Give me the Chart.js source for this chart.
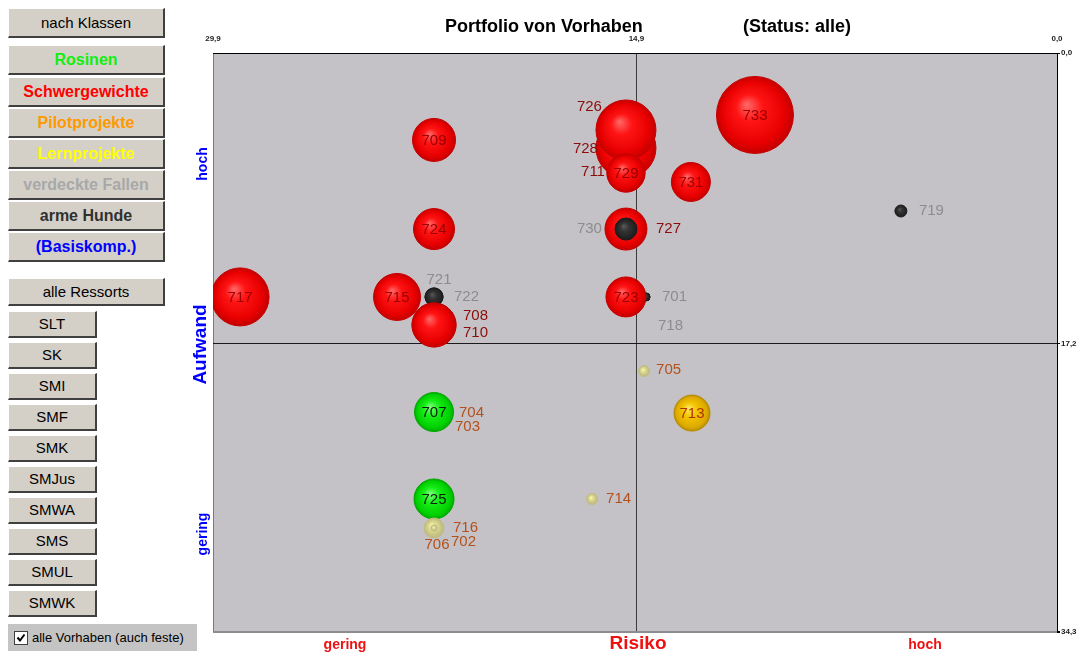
<!DOCTYPE html>
<html lang="de">
<head>
<meta charset="utf-8">
<title>Portfolio von Vorhaben</title>
<script src="https://cdn.jsdelivr.net/npm/chart.js@4.4.1/dist/chart.umd.min.js"></script>
<style>
	html, body { margin: 0; padding: 0; background: #fff; }
	#page { position: relative; width: 1079px; height: 654px; overflow: hidden; font-family: "Liberation Sans", Arial, sans-serif; }
	.btn {
		position: absolute; left: 8px; width: 157px; height: 30px; box-sizing: border-box;
		background: #d4d0c8; border-top: 1px solid #fff; border-left: 1px solid #fff;
		border-right: 2px solid #404040; border-bottom: 2px solid #404040;
		text-align: center; font-size: 15px; line-height: 27px; color: #000; white-space: nowrap;
	}
	.btn.k { font-weight: bold; font-size: 16px; }
	.btn.r { width: 89px; height: 27px; line-height: 24px; }
	#chk { position: absolute; left: 8px; top: 624px; width: 189px; height: 27px; background: #c4c4c4; font-size: 13px; line-height: 27px; }
	#chk .box { position: absolute; left: 6px; top: 7px; width: 12px; height: 12px; background: #fff; border: 1px solid #404040; }
	#chk .box svg { display: block; }
	#chk span { position: absolute; left: 24px; top: 0; }
	#chartBox { position: absolute; left: 180px; top: 0; width: 899px; height: 654px; }
</style>
</head>
<body>
<div id="page">
	<div class="btn" style="top:8px">nach Klassen</div>
	<div class="btn k" style="top:45px;color:#11ee11">Rosinen</div>
	<div class="btn k" style="top:77px;color:#ff0000">Schwergewichte</div>
	<div class="btn k" style="top:108px;color:#ff9900">Pilotprojekte</div>
	<div class="btn k" style="top:139px;color:#ffff00">Lernprojekte</div>
	<div class="btn k" style="top:170px;color:#a8a8a8">verdeckte Fallen</div>
	<div class="btn k" style="top:201px;color:#303030">arme Hunde</div>
	<div class="btn k" style="top:232px;color:#0000ff">(Basiskomp.)</div>

	<div class="btn" style="top:278px;height:28px;line-height:25px">alle Ressorts</div>
	<div class="btn r" style="top:311px">SLT</div>
	<div class="btn r" style="top:342px">SK</div>
	<div class="btn r" style="top:373px">SMI</div>
	<div class="btn r" style="top:404px">SMF</div>
	<div class="btn r" style="top:435px">SMK</div>
	<div class="btn r" style="top:466px">SMJus</div>
	<div class="btn r" style="top:497px">SMWA</div>
	<div class="btn r" style="top:528px">SMS</div>
	<div class="btn r" style="top:559px">SMUL</div>
	<div class="btn r" style="top:590px">SMWK</div>

	<div id="chk">
		<div class="box"><svg width="12" height="12" viewBox="0 0 12 12"><path d="M2.5 5.5 L5 8.5 L9.5 2.5" stroke="#000" stroke-width="2" fill="none"/></svg></div>
		<span>alle Vorhaben (auch feste)</span>
	</div>

	<div id="chartBox"><canvas id="portfolio"></canvas></div>
</div>

<script>
/* global Chart */

// ----------------------------------------------------------------
// Daten: Vorhaben (Reihenfolge = Zeichenreihenfolge)
// ----------------------------------------------------------------
var PROJEKTE = [ '704', '703', '717', '715', '709', '724', '721', '722', '708', '710',
                 '728', '726', '711', '729', '731', '733', '727', '730', '701', '718',
                 '723', '719', '707', '725', '713', '705', '714', '716', '706', '702' ];

var RISIKO   = [ 22.07, 22.07, 28.94, 23.38, 22.07, 22.07, 22.07, 22.07, 22.07, 22.07,
                 15.27, 15.27, 15.27, 15.27, 12.97, 10.70, 15.27, 15.27, 14.56, 14.56,
                 15.27,  5.53, 22.07, 22.07, 12.93, 14.63, 16.47, 22.07, 22.07, 22.07 ];

var AUFWAND  = [ 21.27, 21.27, 14.45, 14.45,  5.15, 10.43, 14.45, 14.45, 16.11, 16.11,
                  5.63,  4.56,  7.11,  7.11,  7.64,  3.67, 10.43, 10.43, 14.45, 14.45,
                 14.45,  9.36, 21.27, 26.42, 21.33, 18.84, 26.42, 28.14, 28.14, 28.14 ];

var UMFANG   = [ 5, 5, 29, 23.5, 21.5, 20.5, 9, 9, 22, 22,
                 30, 30, 19, 19, 19.5, 38.5, 21, 11, 4, 4,
                 20, 6, 19.5, 20, 18, 5.5, 5.5, 10, 3, 3 ];

var KLASSE   = [ 'lern', 'lern', 'schwer', 'schwer', 'schwer', 'schwer', 'hund', 'hund', 'schwer', 'schwer',
                 'schwer', 'schwer', 'schwer', 'schwer', 'schwer', 'schwer', 'schwer', 'hund', 'hund', 'hund',
                 'schwer', 'hund', 'rosine', 'rosine', 'pilot', 'lern', 'lern', 'lern', 'lern', 'lern' ];

var X_TICKS = [ 0, 14.9, 29.9 ];
var Y_TICKS = [ 0, 17.2, 34.3 ];

var TITEL   = 'Portfolio von Vorhaben';
var STATUS  = '(Status: alle)';
var X_TITEL = 'Risiko';
var Y_TITEL = 'Aufwand';
var STUFEN  = [ 'gering', 'hoch' ];

( function () {
	'use strict';

	var RADIUS_FAKTOR = 1;
	var PLOT_BG = '#c4c2c6';
	var LABEL_FONT = '15px "Liberation Sans", Arial, sans-serif';

	var FARBEN = {
		schwer : { stops: [ [ 0, '#ff6a6a' ], [ 0.35, '#ff1414' ], [ 0.8, '#e80000' ], [ 1, '#c40000' ] ], rand: '#c80000', innen: '#990000', aussen: '#8c0c0c' },
		rosine : { stops: [ [ 0, '#80ff80' ], [ 0.4, '#18ee18' ], [ 0.85, '#00d000' ], [ 1, '#00aa00' ] ], rand: '#00aa00', innen: '#0a200a', aussen: '#0a200a' },
		pilot  : { stops: [ [ 0, '#ffe866' ], [ 0.4, '#f2c400' ], [ 0.85, '#dcaa00' ], [ 1, '#b88c00' ] ], rand: '#b88c00', innen: '#b03000', aussen: '#b4501c' },
		lern   : { stops: [ [ 0, '#ffffb8' ], [ 0.25, '#e8e49a' ], [ 0.6, '#d2ce8c' ], [ 1, '#bcb67e' ] ], rand: '#c2be84', innen: '#b4501c', aussen: '#b4501c' },
		hund   : { stops: [ [ 0, '#5a5a5a' ], [ 0.4, '#333333' ], [ 1, '#1c1c1c' ] ], rand: '#1a1a1a', innen: '#888888', aussen: '#8c8c8c' },
	};

	// Label-Versatz in Pixeln relativ zur Kugelmitte: [ dx, dy, Ausrichtung ]
	// Fehlt ein Eintrag, steht die Nummer mittig in der Kugel.
	var LABEL_VERSATZ = {
		'704': [ 25, 1, 'left' ],   '703': [ 21, 15, 'left' ],
		'721': [ 5, -17, 'center' ], '722': [ 20, 0, 'left' ],
		'708': [ 29, -9, 'left' ],  '710': [ 29, 8, 'left' ],
		'728': [ -28, 1, 'right' ], '726': [ -24, -23, 'right' ],
		'711': [ -21, -1, 'right' ], '727': [ 30, 0, 'left' ],
		'730': [ -24, 0, 'right' ], '701': [ 16, 0, 'left' ],
		'718': [ 12, 29, 'left' ],  '719': [ 18, 0, 'left' ],
		'705': [ 12, -1, 'left' ],  '714': [ 14, 0, 'left' ],
		'716': [ 19, 0, 'left' ],   '706': [ 3, 17, 'center' ],
		'702': [ 17, 14, 'left' ],
	};

	Chart.defaults.font.family = '"Liberation Sans", Arial, sans-serif';

	function komma( v ) {
		return Number( v ).toFixed( 1 ).replace( '.', ',' );
	}

	function kugel( ctx ) {
		var f = FARBEN[ KLASSE[ ctx.dataIndex ] ] || FARBEN.schwer;
		if ( ctx.type !== 'data' ) { return f.rand; }
		var chart = ctx.chart;
		var i  = ctx.dataIndex;
		var px = chart.scales.x.getPixelForValue( RISIKO[ i ] );
		var py = chart.scales.y.getPixelForValue( AUFWAND[ i ] );
		var r  = UMFANG[ i ] * RADIUS_FAKTOR;
		if ( ! isFinite( px ) || ! isFinite( py ) ) { return f.stops[ 1 ][ 1 ]; }
		var g = chart.ctx.createRadialGradient( px - r * 0.22, py - r * 0.28, 0, px, py, r );
		f.stops.forEach( function ( s ) { g.addColorStop( s[ 0 ], s[ 1 ] ); } );
		return g;
	}

	function randFarbe( ctx ) {
		var f = FARBEN[ KLASSE[ ctx.dataIndex ] ] || FARBEN.schwer;
		return f.rand;
	}

	// ----------------------------------------------------------------
	// Plugins
	// ----------------------------------------------------------------

	var hintergrund = {
		id: 'hintergrund',
		beforeDraw: function ( chart ) {
			var a = chart.chartArea, c = chart.ctx;
			c.save();
			c.fillStyle = PLOT_BG;
			c.fillRect( a.left, a.top, a.right - a.left, a.bottom - a.top );
			c.restore();
		}
	};

	var nummern = {
		id: 'nummern',
		afterDatasetsDraw: function ( chart ) {
			var meta = chart.getDatasetMeta( 0 );
			var c = chart.ctx;
			c.save();
			c.font = LABEL_FONT;
			c.textBaseline = 'middle';
			meta.data.forEach( function ( el, i ) {
				var id = PROJEKTE[ i ];
				var f  = FARBEN[ KLASSE[ i ] ];
				var v  = LABEL_VERSATZ[ id ];
				if ( v ) {
					c.fillStyle = f.aussen;
					c.textAlign = v[ 2 ];
					c.fillText( id, el.x + v[ 0 ], el.y + v[ 1 ] );
				} else {
					c.fillStyle = f.innen;
					c.textAlign = 'center';
					c.fillText( id, el.x, el.y + 1 );
				}
			} );
			c.restore();
		}
	};

	var achsenText = {
		id: 'achsenText',
		afterDraw: function ( chart ) {
			var a = chart.chartArea, c = chart.ctx;
			var mx = ( a.left + a.right ) / 2;
			var my = ( a.top + a.bottom ) / 2;
			c.save();
			c.textBaseline = 'middle';

			c.fillStyle = '#000';
			c.font = 'bold 18px "Liberation Sans", Arial, sans-serif';
			c.textAlign = 'left';
			c.fillText( TITEL, a.left + 232, 27 );
			c.fillText( STATUS, a.left + 530, 27 );

			c.fillStyle = '#ee1111';
			c.textAlign = 'center';
			c.font = 'bold 19px "Liberation Sans", Arial, sans-serif';
			c.fillText( X_TITEL, mx + 3, a.bottom + 12 );
			c.font = 'bold 14px "Liberation Sans", Arial, sans-serif';
			c.fillText( STUFEN[ 0 ], a.left + 132, a.bottom + 13 );
			c.fillText( STUFEN[ 1 ], a.right - 132, a.bottom + 13 );

			c.fillStyle = '#0000ff';
			c.save();
			c.translate( a.left - 12, my + 2 );
			c.rotate( -Math.PI / 2 );
			c.font = 'bold 19px "Liberation Sans", Arial, sans-serif';
			c.fillText( Y_TITEL, 0, 0 );
			c.restore();

			c.font = 'bold 14px "Liberation Sans", Arial, sans-serif';
			c.save();
			c.translate( a.left - 10, a.top + 111 );
			c.rotate( -Math.PI / 2 );
			c.fillText( STUFEN[ 1 ], 0, 0 );
			c.restore();
			c.save();
			c.translate( a.left - 10, a.bottom - 98 );
			c.rotate( -Math.PI / 2 );
			c.fillText( STUFEN[ 0 ], 0, 0 );
			c.restore();

			c.restore();
		}
	};

	// ----------------------------------------------------------------
	// Chart
	// ----------------------------------------------------------------

	var punkte = PROJEKTE.map( function ( id, i ) {
		return { x: RISIKO[ i ], y: AUFWAND[ i ], r: UMFANG[ i ] * RADIUS_FAKTOR };
	} );

	var TICK_FONT = { family: '"Liberation Sans", Arial, sans-serif', size: 8, weight: 'bold' };

	new Chart( document.getElementById( 'portfolio' ), {
		type: 'bubble',
		data: {
			datasets: [ {
				label           : 'Vorhaben',
				data            : punkte,
				backgroundColor : kugel,
				borderColor     : randFarbe,
				borderWidth     : 1,
				hoverRadius     : 0,
				clip            : 0,
			} ],
		},
		options: {
			responsive          : true,
			maintainAspectRatio : false,
			animation           : false,
			events              : [],
			layout              : { autoPadding: false, padding: { left: 33, top: 33, right: 0, bottom: 22 } },
			plugins: {
				legend  : { display: false },
				tooltip : { enabled: false },
			},
			scales: {
				x: {
					type     : 'linear',
					position : 'top',
					reverse  : true,
					min      : 0,
					max      : 29.9,
					afterBuildTicks: function ( s ) { s.ticks = X_TICKS.map( function ( v ) { return { value: v }; } ); },
					afterFit : function ( s ) { s.height = 20; },
					ticks    : { callback: komma, font: TICK_FONT, color: '#222', padding: 9, maxRotation: 0 },
					grid     : {
						drawTicks : false,
						color     : function ( c ) { return [ '#000000', '#3a3a3a', '#7a7a7a' ][ c.index ]; },
						lineWidth : 1,
					},
					border   : { display: true, color: '#000', width: 1 },
				},
				y: {
					type     : 'linear',
					position : 'right',
					reverse  : true,
					min      : 0,
					max      : 34.3,
					afterBuildTicks: function ( s ) { s.ticks = Y_TICKS.map( function ( v ) { return { value: v }; } ); },
					afterFit : function ( s ) { s.width = 22; },
					ticks    : { callback: komma, font: TICK_FONT, color: '#222', padding: 1 },
					grid     : {
						drawTicks  : true,
						tickLength : 3,
						tickColor  : '#000',
						color      : function ( c ) { return [ '#000000', '#1a1a1a', '#8c8c8c' ][ c.index ]; },
						lineWidth  : function ( c ) { return c.index === 2 ? 2 : 1; },
					},
					border   : { display: true, color: '#000', width: 1 },
				},
			},
		},
		plugins: [ hintergrund, nummern, achsenText ],
	} );
}() );
</script>
</body>
</html>
